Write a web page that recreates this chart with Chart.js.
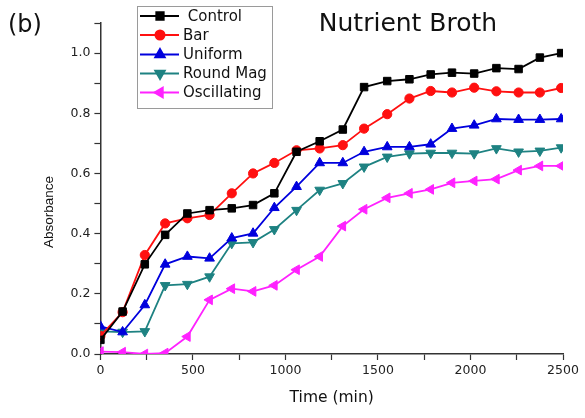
<!DOCTYPE html>
<html><head><meta charset="utf-8">
<script src="https://cdn.jsdelivr.net/npm/chart.js@4/dist/chart.umd.min.js"></script>
<style>html,body{margin:0;padding:0;background:#fff;}#wrap{width:585px;height:418px;}</style>
</head><body><div id="wrap"><canvas id="c" width="585" height="418"></canvas></div>
<script>
const timeMin = [0,120,240,350,470,590,710,825,940,1060,1185,1310,1425,1550,1670,1785,1900,2020,2140,2260,2375,2490];
const control = [0.047,0.141,0.298,0.396,0.467,0.478,0.484,0.495,0.534,0.672,0.707,0.746,0.887,0.907,0.913,0.929,0.935,0.932,0.950,0.947,0.985,1.000];
const bar = [0.060,0.139,0.329,0.434,0.451,0.462,0.534,0.600,0.635,0.677,0.683,0.694,0.749,0.797,0.849,0.874,0.869,0.885,0.873,0.869,0.869,0.884];
const uniform = [0.092,0.073,0.163,0.298,0.324,0.318,0.385,0.401,0.486,0.556,0.635,0.635,0.672,0.688,0.688,0.697,0.749,0.760,0.781,0.779,0.779,0.781];
const roundMag = [0.075,0.073,0.075,0.228,0.232,0.257,0.368,0.371,0.414,0.478,0.545,0.567,0.622,0.655,0.666,0.668,0.668,0.666,0.683,0.672,0.675,0.686];
const oscillating = [0.008,0.006,0.000,0.003,0.058,0.180,0.217,0.208,0.228,0.280,0.324,0.425,0.481,0.519,0.534,0.547,0.569,0.575,0.581,0.611,0.625,0.625];
const seriesNames = ['Control','Bar','Uniform','Round Mag','Oscillating'];
const yTickLabels = ['0.0','0.2','0.4','0.6','0.8','1.0'];
const xTickLabels = ['0','500','1000','1500','2000','2500'];

const styles = [
  {color:'#000000', pointStyle:'rect', rotation:0, radius:5.3},
  {color:'#ff1010', pointStyle:'circle', rotation:0, radius:4.6},
  {color:'#0000dd', pointStyle:'triangle', rotation:0, radius:5.6},
  {color:'#1e8282', pointStyle:'triangle', rotation:180, radius:5.6},
  {color:'#ff22ff', pointStyle:'triangle', rotation:270, radius:5.6}
];
const allSeries = [control, bar, uniform, roundMag, oscillating];
const datasets = allSeries.map((vals,i)=>({
  label: seriesNames[i],
  data: vals.map((v,j)=>({x:timeMin[j], y:v})),
  borderColor: styles[i].color,
  backgroundColor: styles[i].color,
  pointBackgroundColor: styles[i].color,
  pointBorderColor: styles[i].color,
  pointStyle: styles[i].pointStyle,
  pointRotation: styles[i].rotation,
  pointRadius: styles[i].radius,
  pointBorderWidth: 1,
  borderWidth: 1.8,
  tension: 0
}));

const font = 'DejaVu Sans';
const overlay = {
  id:'overlay',
  afterDraw(chart){
    const ctx = chart.ctx;
    ctx.save();
    ctx.fillStyle = '#111';
    ctx.textBaseline = 'alphabetic';
    ctx.font = '24px "' + font + '"';
    ctx.textAlign = 'left';
    ctx.fillText('(b)', 8, 32);
    ctx.textAlign = 'center';
    ctx.font = '25px "' + font + '"';
    ctx.fillText('Nutrient Broth', 408, 31);
    // y title
    ctx.save();
    ctx.translate(49, 212);
    ctx.rotate(-Math.PI/2);
    ctx.font = '13.5px "Liberation Sans"';
    ctx.textAlign = 'center';
    ctx.textBaseline = 'middle';
    ctx.fillText('Absorbance', 0, 0);
    ctx.restore();
    // legend
    const bx = 137, by = 6, bw = 135, bh = 102;
    ctx.fillStyle = '#fff';
    ctx.fillRect(bx, by, bw, bh);
    ctx.strokeStyle = '#9a9a9a';
    ctx.lineWidth = 1;
    ctx.strokeRect(bx+0.5, by+0.5, bw, bh);
    const rowY = [16, 35, 54.5, 73.5, 92.5];
    ctx.font = '15px "' + font + '"';
    ctx.textAlign = 'left';
    ctx.textBaseline = 'middle';
    chart.data.datasets.forEach((ds,i)=>{
      const y = rowY[i];
      ctx.strokeStyle = ds.borderColor;
      ctx.lineWidth = 1.8;
      ctx.beginPath(); ctx.moveTo(140, y); ctx.lineTo(179, y); ctx.stroke();
      ctx.fillStyle = ds.borderColor;
      Chart.helpers.drawPoint(ctx, {pointStyle: ds.pointStyle, rotation: ds.pointRotation, radius: ds.pointRadius, borderWidth: 1}, 160, y);
      ctx.fillStyle = '#111';
      ctx.fillText((i===0?' ':'') + ds.label, 183, y+1);
    });
    ctx.restore();
  }
};

new Chart(document.getElementById('c'), {
  type:'line',
  data:{datasets},
  options:{
    responsive:false,
    animation:false,
    devicePixelRatio:1,
    layout:{padding:{left:0, right:22, top:23, bottom:0}},
    plugins:{legend:{display:false}, tooltip:{enabled:false}},
    scales:{
      x:{
        type:'linear', min:0, max:2500,
        afterFit(s){ s.height = 64; },
        ticks:{stepSize:250, font:{family:font, size:12.5}, color:'#222', padding:3, maxRotation:0,
          callback:(v)=>{ const k = Math.round(v/500); return (Math.abs(v-k*500)<1e-6) ? xTickLabels[k] : ''; }},
        grid:{display:true, drawOnChartArea:false, drawTicks:true, tickLength:6, tickColor:'#333', tickWidth:1.2},
        border:{display:true, color:'#333', width:1.5},
        title:{display:true, text:'Time (min)', font:{family:font, size:15.5}, color:'#111', padding:{top:0,bottom:11}}
      },
      y:{
        type:'linear', min:0, max:1.1,
        afterFit(s){ s.width = 100.4; },
        ticks:{stepSize:0.1, font:{family:font, size:12.5}, color:'#222', padding:4,
          callback:(v)=>{ const k = Math.round(v*10); return (k%2===0 && Math.abs(v*10-k)<1e-6) ? yTickLabels[k/2] : ''; }},
        grid:{display:true, drawOnChartArea:false, drawTicks:true, tickLength:6, tickColor:'#333', tickWidth:1.2},
        border:{display:true, color:'#333', width:1.5},
        title:{display:false}
      }
    }
  },
  plugins:[overlay]
});
</script>
</body></html>
